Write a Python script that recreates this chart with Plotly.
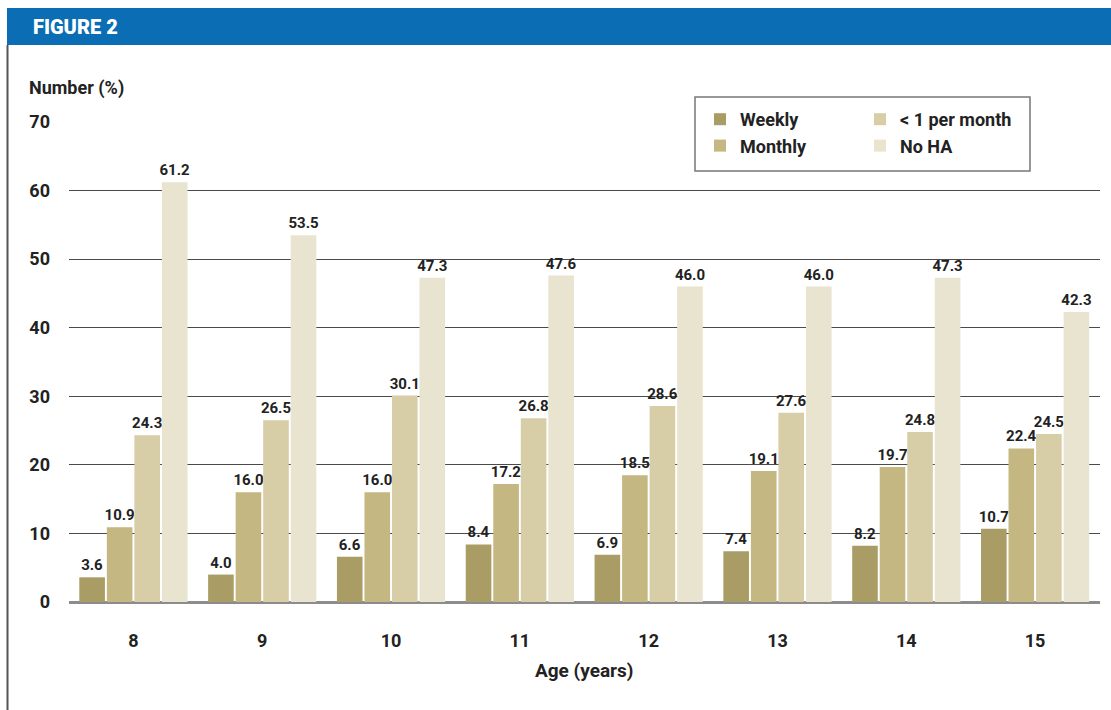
import plotly.graph_objects as go

ages = [8, 9, 10, 11, 12, 13, 14, 15]
weekly = [3.6, 4.0, 6.6, 8.4, 6.9, 7.4, 8.2, 10.7]
monthly = [10.9, 16.0, 16.0, 17.2, 18.5, 19.1, 19.7, 22.4]
less_monthly = [24.3, 26.5, 30.1, 26.8, 28.6, 27.6, 24.8, 24.5]
no_ha = [61.2, 53.5, 47.3, 47.6, 46.0, 46.0, 47.3, 42.3]
y_ticks = [0, 10, 20, 30, 40, 50, 60, 70]

FONT = "Roboto, 'Liberation Sans', sans-serif"
W, H = 1111, 710

series = [
    ("Weekly", weekly, "#a99d65", "legend"),
    ("Monthly", monthly, "#c4b782", "legend"),
    ("< 1 per month", less_monthly, "#d7cda7", "legend2"),
    ("No HA", no_ha, "#e8e4cf", "legend2"),
]

fig = go.Figure()
for name, vals, col, lg in series:
    fig.add_trace(go.Bar(
        x=ages, y=vals, name=name, marker=dict(color=col, line=dict(width=0)),
        text=[f"{v:.1f}" for v in vals], textposition="outside",
        textfont=dict(family=FONT, size=15, color="#222222", weight="bold"),
        constraintext="none", cliponaxis=False, legend=lg,
    ))

px = lambda p: p / W
py = lambda p: 1 - p / H

legend_common = dict(
    xanchor="left", yanchor="top",
    bgcolor="rgba(0,0,0,0)", borderwidth=0, tracegroupgap=0,
    font=dict(family=FONT, size=18, color="#222222", weight="bold"),
    itemwidth=30,
)

fig.update_layout(
    template="none",
    width=W, height=H, autosize=False,
    margin=dict(l=0, r=0, t=0, b=0, pad=0),
    paper_bgcolor="white", plot_bgcolor="white",
    barmode="group", bargap=0.145, bargroupgap=0.07,
    font=dict(family=FONT, size=16, color="#222222"),
    xaxis=dict(
        domain=[px(69), px(1099.5)], range=[7.5, 15.5], automargin=False,
        tickvals=ages, ticktext=[str(a) for a in ages],
        showgrid=False, showline=False, zeroline=False, ticks="",
        tickfont=dict(family=FONT, size=18, color="#222222", weight="bold"),
        ticklabelstandoff=26,
        title=dict(text="Age (years)", font=dict(family=FONT, size=19, color="#222222", weight="bold"), standoff=13),
    ),
    yaxis=dict(
        domain=[py(602), py(122)], range=[0, 70], automargin=False,
        tickvals=y_ticks, ticktext=[str(t) for t in y_ticks],
        showgrid=True, gridcolor="#4a4a4a", gridwidth=1.3,
        zeroline=True, zerolinecolor="#8c8c8c", zerolinewidth=3,
        showline=False, ticks="",
        tickfont=dict(family=FONT, size=18, color="#222222", weight="bold"),
        ticklabelstandoff=18,
    ),
    legend=dict(x=px(700), y=py(101), **legend_common),
    legend2=dict(x=px(860), y=py(101), **legend_common),
    showlegend=True,
)

shapes = [
    # blue banner
    dict(type="rect", xref="paper", yref="paper", x0=px(7), x1=1, y0=py(45), y1=py(8),
         fillcolor="#0b6db4", line=dict(width=0), layer="above"),
    # left border
    dict(type="line", xref="paper", yref="paper", x0=px(7.5), x1=px(7.5), y0=0, y1=py(45),
         line=dict(color="#555555", width=2), layer="above"),
    # legend box
    dict(type="rect", xref="paper", yref="paper", x0=px(695), x1=px(1030), y0=py(171), y1=py(97),
         fillcolor="white", line=dict(color="#777777", width=1.5), layer="above"),
]
fig.update_layout(shapes=shapes)

fig.add_annotation(xref="paper", yref="paper", x=px(31), y=py(27), xanchor="left", yanchor="middle",
                   text="FIGURE 2", showarrow=False,
                   font=dict(family=FONT, size=20, color="white", weight=900))
fig.add_annotation(xref="paper", yref="paper", x=px(27), y=py(88), xanchor="left", yanchor="middle",
                   text="Number (%)", showarrow=False,
                   font=dict(family=FONT, size=18, color="#222222", weight="bold"))

fig.write_html("out.html")
